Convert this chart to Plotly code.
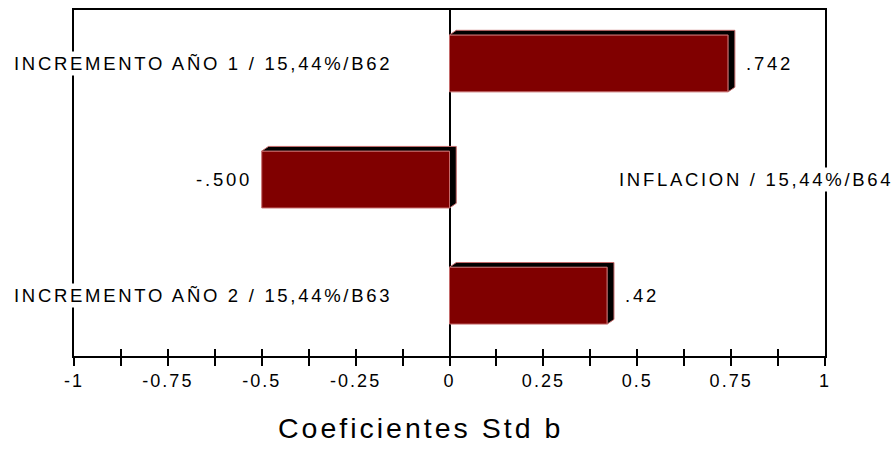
import plotly.graph_objects as go

# Standardised coefficients per predictor (top to bottom)
labels = [
    "INCREMENTO AÑO 1 / 15,44%/B62",
    "INFLACION / 15,44%/B64",
    "INCREMENTO AÑO 2 / 15,44%/B63",
]
values = [0.742, -0.500, 0.42]
value_text = [".742", "-.500", ".42"]
tick_vals = [-1, -0.75, -0.5, -0.25, 0, 0.25, 0.5, 0.75, 1]
tick_text = ["-1", "-0.75", "-0.5", "-0.25", "0", "0.25", "0.5", "0.75", "1"]
minor_vals = [i / 8 for i in range(-8, 9)]

BAR_COLOR = "#800000"
SIDE_COLOR = "#000000"
EDGE_COLOR = "#c46a6a"
FONT = "Liberation Sans, Arial, sans-serif"
BAR_W = 0.49          # bar thickness in row units
DEPTH_X = 0.018       # extrusion depth along x (data units)
DEPTH_Y = 0.04        # extrusion depth along y (row units)


def spaced(txt, px=2.6):
    return f'<span style="letter-spacing:{px}px">{txt}</span>'


rows = list(range(len(values)))
fig = go.Figure()

# 3D extrusion (top and right faces) behind each bar
for r, v in zip(rows, values):
    x0, x1 = min(0, v), max(0, v)
    yt, yb = r - BAR_W / 2, r + BAR_W / 2
    fig.add_trace(go.Scatter(
        x=[x0, x0 + DEPTH_X, x1 + DEPTH_X, x1 + DEPTH_X, x1, x1, x0],
        y=[yt, yt - DEPTH_Y, yt - DEPTH_Y, yb - DEPTH_Y, yb, yt, yt],
        mode="lines", fill="toself", fillcolor=SIDE_COLOR,
        line=dict(color=EDGE_COLOR, width=1),
        hoverinfo="skip", showlegend=False,
    ))

# front faces
fig.add_trace(go.Bar(
    y=rows, x=values, base=0, orientation="h", width=BAR_W,
    marker=dict(color=BAR_COLOR, line=dict(color=EDGE_COLOR, width=1)),
    hoverinfo="skip", showlegend=False,
))

# helper trace so the crossing-tick axis is drawn
fig.add_trace(go.Scatter(x=[0], y=[0], xaxis="x2", mode="markers",
                         marker=dict(opacity=0), hoverinfo="skip", showlegend=False))

LABEL_FONT = dict(size=18.5, color="black", family=FONT)
annotations = []
for r, (lab, v, vt) in enumerate(zip(labels, values, value_text)):
    if v >= 0:
        annotations.append(dict(x=-0.083, xref="paper", y=r, yref="y", text=spaced(lab, 2.7),
                                xanchor="left", yanchor="middle", showarrow=False,
                                bgcolor="white", font=LABEL_FONT))
        annotations.append(dict(x=v, xref="x", y=r, yref="y", text=spaced(vt, 2.8),
                                xanchor="left", yanchor="middle", showarrow=False, xshift=16,
                                font=LABEL_FONT))
    else:
        annotations.append(dict(x=0.446, xref="x", y=r, yref="y", text=spaced(lab, 2.7),
                                xanchor="left", yanchor="middle", showarrow=False,
                                bgcolor="white", font=LABEL_FONT))
        annotations.append(dict(x=v, xref="x", y=r, yref="y", text=spaced(vt, 2.8),
                                xanchor="right", yanchor="middle", showarrow=False, xshift=-8,
                                font=LABEL_FONT))

annotations.append(dict(x=0.461, xref="paper", y=-0.207, yref="paper",
                        text=spaced("Coeficientes Std b", 3.0),
                        xanchor="center", yanchor="middle", showarrow=False,
                        font=dict(size=28.5, color="black", family=FONT)))

fig.update_layout(
    width=892, height=449,
    margin=dict(l=74, r=67, t=8, b=93),
    paper_bgcolor="white", plot_bgcolor="white",
    font=dict(family=FONT, color="black"),
    xaxis=dict(
        range=[-1, 1], tickvals=tick_vals, ticktext=[spaced(t, 2) for t in tick_text],
        ticks="outside", ticklen=8, tickwidth=1.5, tickcolor="black",
        minor=dict(tickvals=minor_vals, ticks="outside", ticklen=8, tickwidth=1.5, tickcolor="black"),
        tickfont=dict(size=18, color="black", family=FONT),
        showline=True, linecolor="black", linewidth=1.5, mirror=True,
        showgrid=False, zeroline=True, zerolinecolor="black", zerolinewidth=1.5,
        fixedrange=True,
    ),
    xaxis2=dict(
        range=[-1, 1], overlaying="x", anchor="y", side="bottom",
        tickvals=minor_vals, ticks="inside", ticklen=7, tickwidth=1.5, tickcolor="black",
        showticklabels=False, showline=False, showgrid=False, zeroline=False,
    ),
    yaxis=dict(
        range=[2.52, -0.46], showticklabels=False, ticks="",
        showline=True, linecolor="black", linewidth=1.5, mirror=True,
        showgrid=False, zeroline=False, fixedrange=True,
    ),
    annotations=annotations,
)

fig.write_html("out.html")
